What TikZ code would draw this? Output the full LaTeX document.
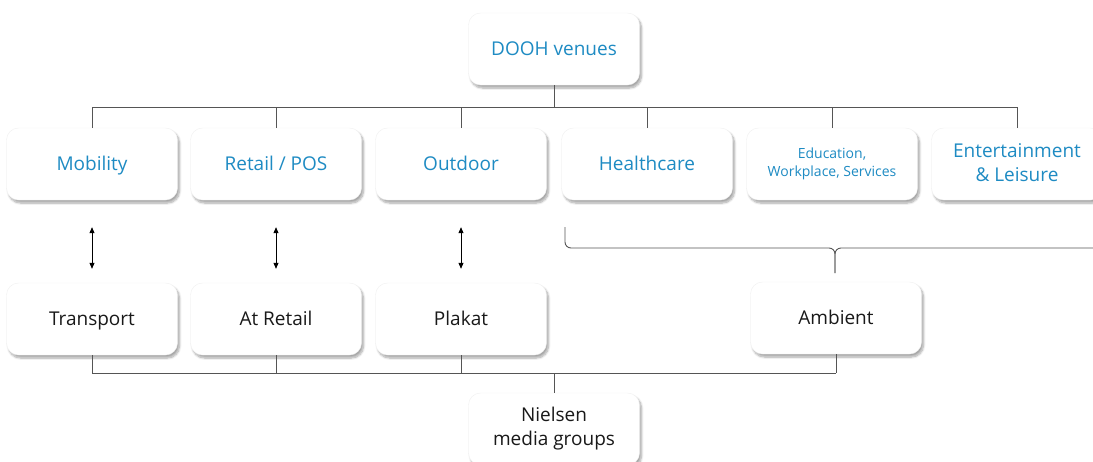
\documentclass[tikz,border=0pt]{standalone}
\usepackage{fontspec}
\setmainfont{Open Sans}
\usetikzlibrary{shadows.blur,arrows.meta}
\definecolor{venueblue}{HTML}{1E8BC3}
\definecolor{linegray}{HTML}{555555}
\newcommand\boxstrut{\rule[-0.17em]{0pt}{1.05em}}

\begin{document}
\begin{tikzpicture}[x=1pt,y=-1pt,
 box/.style={rectangle, rounded corners=12pt, fill=white, draw=black!6,
  minimum width=171pt, minimum height=72pt, align=center,
  font=\fontsize{19}{24}\selectfont,
  execute at begin node=\boxstrut, execute at end node=\boxstrut,
  blur shadow={shadow xshift=2pt, shadow yshift=-3pt, shadow blur steps=8, shadow opacity=35}},
 venue/.style={box, text=venueblue},
 group/.style={box, text=black!90},
 link/.style={draw=linegray, line width=0.9pt},
 swap/.style={draw=black, line width=0.8pt, {Triangle[width=5pt,length=6pt]}-{Triangle[width=5pt,length=6pt]}}
]
 \clip (0,0) rectangle (1093,461);

 %bars between the rows
 \coordinate (topbar) at (0,107);
 \coordinate (lowbar) at (0,373);

 %points of the brace
 \coordinate (braceL) at (565,227);
 \coordinate (braceR) at (1105,227);
 \coordinate (braceM) at (835,248); %middle of the brace
 \coordinate (braceT) at (835,273); %tip of the brace

 %venue boxes
 \node[venue] (dooh) at (554,49) {DOOH venues};
 \node[venue] (mobility) at (92,164) {Mobility};
 \node[venue] (retail) at (276,164) {Retail / POS};
 \node[venue] (outdoor) at (461,164) {Outdoor};
 \node[venue] (health) at (647,164) {Healthcare};
 \node[venue, font=\fontsize{14}{18}\selectfont] (education) at (832,164) {Education,\\Workplace, Services};
 \node[venue] (leisure) at (1017,164) {Entertainment\\\& Leisure};

 %media groups
 \node[group] (transport) at (92,319) {Transport};
 \node[group] (atretail) at (276,319) {At Retail};
 \node[group] (plakat) at (461,319) {Plakat};
 \node[group] (ambient) at (836,318) {Ambient};
 \node[group] (nielsen) at (554,429) {Nielsen\\media groups};

 %tree from the top
 \draw[link] (dooh.south) -- (dooh.south |- topbar);
 \draw[link] (mobility.north |- topbar) -- (leisure.north |- topbar);
 \draw[link] (mobility.north) -- (mobility.north |- topbar);
 \draw[link] (retail.north) -- (retail.north |- topbar);
 \draw[link] (outdoor.north) -- (outdoor.north |- topbar);
 \draw[link] (health.north) -- (health.north |- topbar);
 \draw[link] (education.north) -- (education.north |- topbar);
 \draw[link] (leisure.north) -- (leisure.north |- topbar);

 %double arrows
 \draw[swap, shorten <=27pt, shorten >=14pt] (mobility.south) -- (transport.north);
 \draw[swap, shorten <=27pt, shorten >=14pt] (retail.south) -- (atretail.north);
 \draw[swap, shorten <=27pt, shorten >=14pt] (outdoor.south) -- (plakat.north);

 %brace over the ambient venues
 \draw[link, rounded corners=6pt] (braceL) |- (braceM) -- (braceT);
 \draw[link, rounded corners=6pt] (braceR) |- (braceM) -- (braceT);

 %tree to the bottom
 \draw[link] (transport.south |- lowbar) -- (ambient.south |- lowbar);
 \draw[link] (transport.south) -- (transport.south |- lowbar);
 \draw[link] (atretail.south) -- (atretail.south |- lowbar);
 \draw[link] (plakat.south) -- (plakat.south |- lowbar);
 \draw[link] (ambient.south) -- (ambient.south |- lowbar);
 \draw[link] (nielsen.north) -- (nielsen.north |- lowbar);
\end{tikzpicture}
\end{document}
